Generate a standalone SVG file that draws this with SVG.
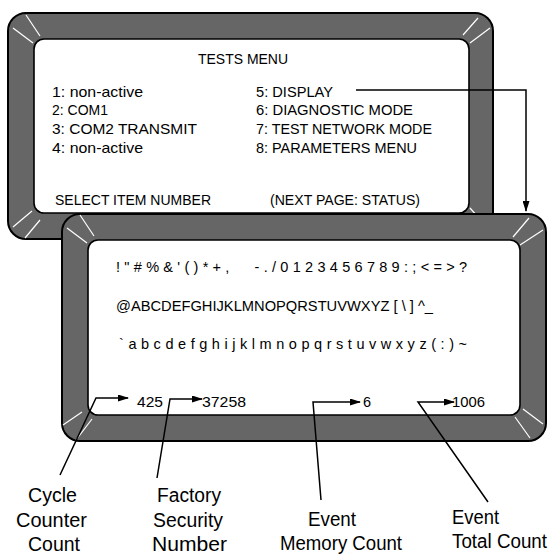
<svg xmlns="http://www.w3.org/2000/svg" width="555" height="555" viewBox="0 0 555 555">
<defs>
<style>
.frame{fill:#666666;stroke:#000;stroke-width:2}
.screen{fill:#fff;stroke:#000;stroke-width:1.6}
.hl{stroke:#fff;stroke-width:1.2;fill:none}
.t{font-family:"Liberation Sans",Arial,sans-serif;font-size:14.5px;fill:#000}
.lbl{font-family:"Liberation Sans",Arial,sans-serif;font-size:19.5px;fill:#000}
.c{fill:none;stroke:#000;stroke-width:1.5}
</style>
<marker id="ah" markerWidth="11" markerHeight="7" refX="10" refY="3.5" orient="auto" markerUnits="userSpaceOnUse">
<path d="M0,0 L11,3.5 L0,7 Z" fill="#000"/>
</marker>
</defs>
<rect width="555" height="555" fill="#fff"/>

<g id="tests-menu-screen">
<rect class="frame" x="8" y="13" width="485" height="226" rx="18"/>
<rect class="screen" x="34" y="39" width="435" height="174" rx="10"/>
<path class="hl" d="M26,15 L40,36 M13,28 L33,43 M463,35 L478,18 M470,43 L490,28 M13,227 L32,211 M25,238 L40,220 M470,208 L485,225"/>
<text class="t" x="198" y="64" textLength="90" lengthAdjust="spacingAndGlyphs">TESTS MENU</text>
<text class="t" x="52" y="97" textLength="91" lengthAdjust="spacingAndGlyphs">1: non-active</text>
<text class="t" x="52" y="115" textLength="56" lengthAdjust="spacingAndGlyphs">2: COM1</text>
<text class="t" x="52" y="134" textLength="145" lengthAdjust="spacingAndGlyphs">3: COM2 TRANSMIT</text>
<text class="t" x="52" y="153" textLength="91" lengthAdjust="spacingAndGlyphs">4: non-active</text>
<text class="t" x="256" y="97" textLength="77" lengthAdjust="spacingAndGlyphs">5: DISPLAY</text>
<text class="t" x="256" y="115" textLength="157" lengthAdjust="spacingAndGlyphs">6: DIAGNOSTIC MODE</text>
<text class="t" x="256" y="134" textLength="176" lengthAdjust="spacingAndGlyphs">7: TEST NETWORK MODE</text>
<text class="t" x="256" y="153" textLength="161" lengthAdjust="spacingAndGlyphs">8: PARAMETERS MENU</text>
<text class="t" x="55" y="205" textLength="156" lengthAdjust="spacingAndGlyphs">SELECT ITEM NUMBER</text>
<text class="t" x="270" y="205" textLength="150" lengthAdjust="spacingAndGlyphs">(NEXT PAGE: STATUS)</text>
</g>

<g id="display-screen">
<rect class="frame" x="62" y="214" width="484" height="227" rx="18"/>
<rect class="screen" x="88" y="240" width="432" height="175" rx="10"/>
<path class="hl" d="M80,215 L94,236 M67,228 L87,243 M513,237 L529,218 M520,245 L543,230 M515,417 L530,438 M523,409 L543,424 M63,425 L82,412 M76,440 L92,419"/>
<text class="t" x="116" y="272" textLength="351" lengthAdjust="spacing">! " # % &amp; ' ( ) * + ,&#160;&#160;&#160;&#160;&#160;&#160;- . / 0 1 2 3 4 5 6 7 8 9 : ; &lt; = &gt; ?</text>
<text class="t" x="116" y="311" textLength="317" lengthAdjust="spacingAndGlyphs">@ABCDEFGHIJKLMNOPQRSTUVWXYZ [ \ ] ^_</text>
<text class="t" x="119" y="349" textLength="348" lengthAdjust="spacing">` a b c d e f g h i j k l m n o p q r s t u v w x y z ( : ) ~</text>
<text class="t" x="137" y="407" textLength="26" lengthAdjust="spacingAndGlyphs">425</text>
<text class="t" x="202" y="407" textLength="44" lengthAdjust="spacingAndGlyphs">37258</text>
<text class="t" x="363" y="407">6</text>
<text class="t" x="452" y="407" textLength="33" lengthAdjust="spacingAndGlyphs">1006</text>
</g>

<g id="connectors">
<path class="c" d="M356,90 H526 V211" marker-end="url(#ah)"/>
<path class="c" d="M60,475 L96,398 H128" marker-end="url(#ah)"/>
<path class="c" d="M157,478 L170,399 H202" marker-end="url(#ah)"/>
<path class="c" d="M321,500 L313,402 H360" marker-end="url(#ah)"/>
<path class="c" d="M488,502 L418,402 H454" marker-end="url(#ah)"/>
</g>

<g id="label-cycle-counter">
<text class="lbl" x="28" y="502" textLength="49" lengthAdjust="spacingAndGlyphs">Cycle</text>
<text class="lbl" x="16" y="527" textLength="71" lengthAdjust="spacingAndGlyphs">Counter</text>
<text class="lbl" x="28" y="551" textLength="52" lengthAdjust="spacingAndGlyphs">Count</text>
</g>
<g id="label-factory-security">
<text class="lbl" x="157" y="502" textLength="64" lengthAdjust="spacingAndGlyphs">Factory</text>
<text class="lbl" x="153" y="527" textLength="70" lengthAdjust="spacingAndGlyphs">Security</text>
<text class="lbl" x="152" y="551" textLength="75" lengthAdjust="spacingAndGlyphs">Number</text>
</g>
<g id="label-event-memory">
<text class="lbl" x="308" y="526" textLength="48" lengthAdjust="spacingAndGlyphs">Event</text>
<text class="lbl" x="280" y="550" textLength="122" lengthAdjust="spacingAndGlyphs">Memory Count</text>
</g>
<g id="label-event-total">
<text class="lbl" x="452" y="524" textLength="47" lengthAdjust="spacingAndGlyphs">Event</text>
<text class="lbl" x="452" y="548" textLength="95" lengthAdjust="spacingAndGlyphs">Total Count</text>
</g>
</svg>
